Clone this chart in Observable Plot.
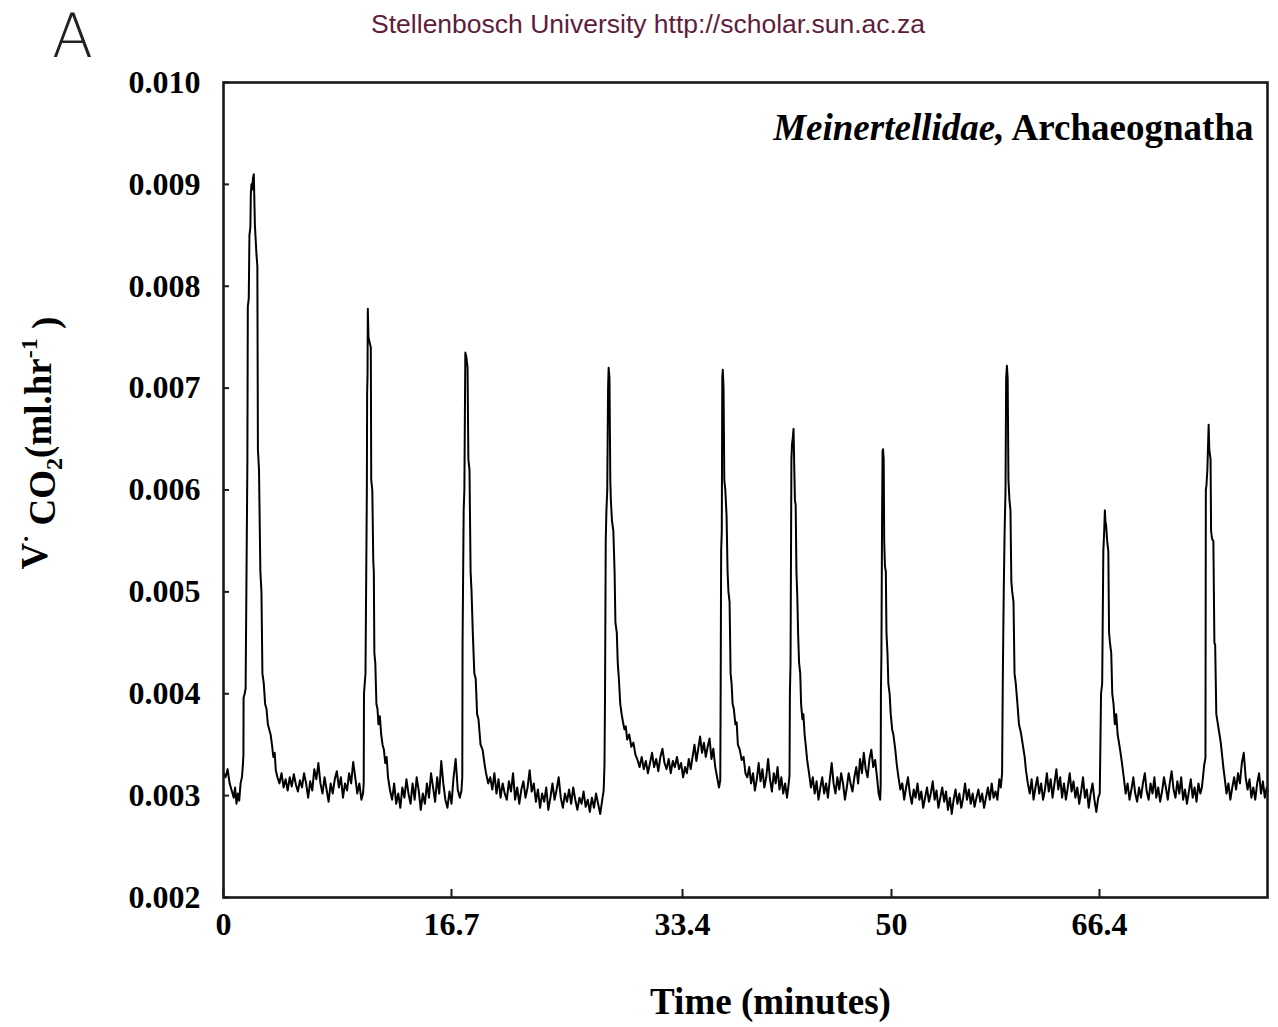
<!DOCTYPE html>
<html>
<head>
<meta charset="utf-8">
<script src="https://cdn.jsdelivr.net/npm/d3@7"></script>
<script src="https://cdn.jsdelivr.net/npm/@observablehq/plot@0.6"></script>
<style>
  html, body { margin: 0; padding: 0; background: #fff; }
  #wrap { position: relative; width: 1278px; height: 1027px; }
  #panel { position: absolute; left: 52px; top: 1px; line-height: normal; font: 200 60px "DejaVu Sans", "Open Sans", sans-serif; color: #222; }
  #mark { position: absolute; left: 0; width: 1296px; top: 9px; line-height: 1.2; text-align: center; font: 26.5px "Liberation Sans", Arial, sans-serif; color: #5e1d3c; }
  #chart { position: absolute; left: 0; top: 0; }
</style>
</head>
<body>
<div id="wrap">
  <div id="chart"></div>
  <div id="panel">A</div>
  <div id="mark">Stellenbosch University http://scholar.sun.ac.za</div>
</div>
<script>
// ---- data: time (minutes), V̇CO2 (ml/hr) ----
const rest0 = [[0,0.00322],[0.15,0.00318],[0.3,0.00326],[0.45,0.00312],[0.6,0.00305],[0.75,0.00298],[0.85,0.00308],[0.95,0.00292],[1.05,0.00302],[1.15,0.00295],[1.25,0.00312],[1.35,0.00318],[1.42,0.0033],[1.46,0.0034]];
const burst1 = [[1.47,0.00396],[1.55,0.004],[1.62,0.00405],[1.75,0.0063],[1.78,0.0078],[1.85,0.00788],[1.9,0.0085],[1.97,0.00858],[2.0,0.0089],[2.05,0.009],[2.1,0.00895],[2.15,0.00905],[2.22,0.0091],[2.3,0.0086],[2.42,0.0083],[2.48,0.0082],[2.52,0.0064],[2.6,0.0062],[2.7,0.0052],[2.78,0.005],[2.85,0.0042],[2.95,0.0041],[3.05,0.0039],[3.15,0.00385],[3.25,0.0037],[3.35,0.00365],[3.45,0.0036],[3.55,0.0035],[3.65,0.00338],[3.75,0.00342],[3.83,0.00325]];
const rest1 = [[3.95,0.00318],[4.1,0.00312],[4.25,0.00322],[4.4,0.00308],[4.55,0.00316],[4.7,0.00305],[4.85,0.00318],[5.0,0.00309],[5.15,0.00321],[5.3,0.00311],[5.45,0.00304],[5.6,0.00315],[5.75,0.00308],[5.9,0.00322],[6.05,0.00312],[6.2,0.00298],[6.35,0.00314],[6.5,0.00305],[6.65,0.00326],[6.8,0.00316],[6.95,0.00332],[7.1,0.00312],[7.25,0.00302],[7.4,0.00318],[7.55,0.00306],[7.7,0.00294],[7.85,0.00312],[8.0,0.00302],[8.15,0.00316],[8.3,0.00324],[8.45,0.00308],[8.6,0.00318],[8.75,0.00298],[8.9,0.00312],[9.05,0.00305],[9.2,0.00322],[9.35,0.00312],[9.5,0.00333],[9.65,0.00318],[9.8,0.00302],[9.95,0.00312],[10.1,0.00296],[10.22,0.00302],[10.27,0.00312]];
const burst2 = [[10.29,0.004],[10.4,0.0042],[10.5,0.006],[10.52,0.00694],[10.55,0.00714],[10.57,0.00778],[10.62,0.0075],[10.7,0.00745],[10.79,0.0074],[10.82,0.0061],[10.9,0.006],[10.97,0.0053],[11.01,0.0052],[11.05,0.0044],[11.12,0.0043],[11.2,0.0039],[11.28,0.00385],[11.35,0.0037],[11.45,0.00378],[11.55,0.0036],[11.65,0.0035],[11.75,0.00345],[11.85,0.00332],[11.95,0.00338],[12.05,0.00318]];
const rest2 = [[12.2,0.00305],[12.35,0.00296],[12.5,0.00312],[12.65,0.00292],[12.8,0.00302],[12.95,0.00288],[13.1,0.00308],[13.25,0.00298],[13.4,0.00316],[13.55,0.00302],[13.7,0.00292],[13.85,0.00312],[14.0,0.00296],[14.15,0.00318],[14.3,0.00305],[14.45,0.00286],[14.6,0.00302],[14.75,0.00292],[14.9,0.00312],[15.05,0.00298],[15.2,0.00322],[15.35,0.00308],[15.5,0.00294],[15.65,0.00318],[15.8,0.00302],[15.95,0.00334],[16.1,0.00312],[16.25,0.00296],[16.4,0.00288],[16.55,0.00304],[16.7,0.00292],[16.85,0.00318],[17.0,0.00336],[17.15,0.00306],[17.3,0.00298],[17.42,0.00305],[17.48,0.00318]];
const burst3 = [[17.5,0.0045],[17.58,0.0058],[17.63,0.006],[17.7,0.00735],[17.78,0.0073],[17.86,0.0072],[17.92,0.0063],[18.0,0.0062],[18.08,0.0052],[18.15,0.005],[18.24,0.0046],[18.35,0.0042],[18.45,0.00415],[18.55,0.0038],[18.65,0.00375],[18.8,0.0035],[18.95,0.00345],[19.1,0.0033],[19.2,0.00322]];
const rest3 = [[19.35,0.00312],[19.5,0.00318],[19.65,0.00306],[19.8,0.00322],[19.95,0.00302],[20.1,0.00316],[20.25,0.00298],[20.4,0.00312],[20.55,0.00302],[20.7,0.00296],[20.85,0.00314],[21.0,0.00304],[21.15,0.00322],[21.3,0.00296],[21.45,0.00308],[21.6,0.00292],[21.75,0.00306],[21.9,0.00314],[22.05,0.00298],[22.2,0.00308],[22.35,0.00325],[22.5,0.00304],[22.65,0.00312],[22.8,0.00294],[22.95,0.00306],[23.1,0.00288],[23.25,0.00302],[23.4,0.00294],[23.55,0.00308],[23.7,0.00286],[23.85,0.00298],[24.0,0.00312],[24.15,0.00296],[24.3,0.00306],[24.45,0.00318],[24.6,0.00298],[24.75,0.00288],[24.9,0.00302],[25.05,0.00294],[25.2,0.00306],[25.35,0.00292],[25.5,0.00308],[25.65,0.00296],[25.8,0.00286],[25.95,0.00298],[26.1,0.00292],[26.25,0.00304],[26.4,0.00289],[26.55,0.00296],[26.7,0.00284],[26.85,0.00298],[27.0,0.00288],[27.15,0.00302],[27.3,0.00292],[27.45,0.00282],[27.6,0.00296],[27.7,0.00305],[27.76,0.0033]];
const burst4 = [[27.8,0.004],[27.85,0.0055],[27.9,0.0058],[27.96,0.006],[28.02,0.007],[28.06,0.0072],[28.12,0.0071],[28.18,0.0061],[28.22,0.0059],[28.3,0.0057],[28.4,0.0056],[28.49,0.0052],[28.55,0.0047],[28.65,0.0046],[28.72,0.0043],[28.8,0.00415],[28.9,0.0039],[29.0,0.0038],[29.1,0.00372],[29.2,0.00365],[29.3,0.00368],[29.4,0.00355],[29.55,0.0036],[29.7,0.00348],[29.85,0.00352],[30.0,0.0034]];
const rest4 = [[30.15,0.00335],[30.3,0.00328],[30.45,0.00338],[30.6,0.00326],[30.75,0.00334],[30.9,0.00322],[31.05,0.00332],[31.2,0.00342],[31.35,0.00328],[31.5,0.00336],[31.65,0.00324],[31.8,0.00338],[31.95,0.00346],[32.1,0.00332],[32.25,0.00326],[32.4,0.00336],[32.55,0.00322],[32.7,0.00334],[32.85,0.00328],[33.0,0.00338],[33.15,0.00326],[33.3,0.00332],[33.45,0.00318],[33.6,0.00328],[33.75,0.00322],[33.9,0.00336],[34.05,0.00326],[34.2,0.00338],[34.35,0.0035],[34.5,0.00334],[34.65,0.00346],[34.8,0.00358],[34.95,0.00342],[35.1,0.00352],[35.25,0.00338],[35.4,0.00348],[35.55,0.00356],[35.7,0.00336],[35.85,0.00346],[36.0,0.00328],[36.15,0.00318],[36.3,0.00308],[36.4,0.00315]];
const burst5 = [[36.43,0.004],[36.47,0.0054],[36.52,0.0056],[36.56,0.0071],[36.6,0.00718],[36.66,0.007],[36.72,0.0061],[36.8,0.006],[36.9,0.00575],[36.98,0.0052],[37.05,0.005],[37.14,0.0049],[37.22,0.0042],[37.3,0.0041],[37.38,0.0039],[37.48,0.00385],[37.6,0.0037],[37.7,0.00372],[37.8,0.0035],[37.95,0.00345],[38.1,0.00335],[38.25,0.00338],[38.4,0.00322]];
const rest5 = [[38.55,0.00318],[38.7,0.00328],[38.85,0.00312],[39.0,0.00322],[39.15,0.00305],[39.3,0.00316],[39.45,0.00332],[39.6,0.00314],[39.75,0.00326],[39.9,0.00308],[40.05,0.00318],[40.2,0.00336],[40.35,0.00316],[40.5,0.00304],[40.65,0.00322],[40.8,0.00312],[40.95,0.00328],[41.1,0.00306],[41.25,0.00318],[41.4,0.00302],[41.55,0.00312],[41.7,0.00298],[41.82,0.0031],[41.9,0.0032]];
const burst6 = [[41.93,0.004],[41.98,0.0043],[42.05,0.0063],[42.1,0.00645],[42.15,0.0065],[42.22,0.0066],[42.28,0.0062],[42.33,0.0059],[42.39,0.00585],[42.45,0.0052],[42.52,0.00495],[42.58,0.0046],[42.66,0.0043],[42.75,0.0042],[42.82,0.0039],[42.92,0.00375],[43.0,0.0038],[43.1,0.0036],[43.2,0.00348],[43.3,0.00335]];
const rest6 = [[43.45,0.00322],[43.6,0.00308],[43.75,0.00318],[43.9,0.00302],[44.05,0.00314],[44.2,0.00296],[44.35,0.00308],[44.5,0.00318],[44.65,0.00302],[44.8,0.00312],[44.95,0.00298],[45.1,0.00316],[45.25,0.00332],[45.4,0.00312],[45.55,0.00302],[45.7,0.00318],[45.85,0.00306],[46.0,0.00322],[46.15,0.00312],[46.3,0.00296],[46.45,0.00308],[46.6,0.00322],[46.75,0.00312],[46.9,0.00304],[47.05,0.00318],[47.2,0.00328],[47.35,0.00312],[47.5,0.00336],[47.65,0.00322],[47.8,0.00342],[47.95,0.00326],[48.1,0.00318],[48.25,0.00336],[48.4,0.00345],[48.55,0.00328],[48.7,0.00335],[48.85,0.00318],[48.98,0.00302],[49.1,0.00296],[49.14,0.0031]];
const burst7 = [[49.16,0.004],[49.2,0.0044],[49.25,0.0057],[49.29,0.00638],[49.33,0.0064],[49.38,0.0063],[49.42,0.0055],[49.48,0.00525],[49.55,0.0052],[49.6,0.0046],[49.68,0.0044],[49.75,0.0041],[49.85,0.004],[49.94,0.0038],[50.05,0.00365],[50.15,0.0036],[50.3,0.00345],[50.42,0.0033]];
const rest7 = [[50.55,0.00318],[50.7,0.00306],[50.85,0.00312],[51.0,0.00296],[51.15,0.00308],[51.3,0.00318],[51.45,0.00302],[51.6,0.00292],[51.75,0.00306],[51.9,0.00298],[52.05,0.00312],[52.2,0.00296],[52.35,0.00304],[52.5,0.00288],[52.65,0.00298],[52.8,0.00308],[52.95,0.00294],[53.1,0.00302],[53.25,0.00314],[53.4,0.00296],[53.55,0.00305],[53.7,0.00288],[53.85,0.00298],[54.0,0.00308],[54.15,0.00294],[54.3,0.00304],[54.45,0.00286],[54.6,0.00298],[54.75,0.00282],[54.9,0.00296],[55.05,0.00306],[55.2,0.00292],[55.35,0.00302],[55.5,0.00288],[55.65,0.00298],[55.8,0.00312],[55.95,0.00296],[56.1,0.00306],[56.25,0.00292],[56.4,0.00302],[56.55,0.00289],[56.7,0.00298],[56.85,0.00306],[57.0,0.00294],[57.15,0.00302],[57.3,0.00288],[57.45,0.00298],[57.6,0.00308],[57.75,0.00296],[57.9,0.00312],[58.05,0.00298],[58.2,0.00304],[58.35,0.00296],[58.5,0.00316],[58.62,0.00308],[58.72,0.00322]];
const burst8 = [[58.78,0.0042],[58.85,0.005],[58.92,0.0056],[58.99,0.006],[59.04,0.0071],[59.1,0.00722],[59.16,0.0071],[59.22,0.0061],[59.3,0.0059],[59.38,0.0058],[59.45,0.0051],[59.52,0.005],[59.62,0.0049],[59.7,0.0042],[59.8,0.0041],[59.93,0.0039],[60.05,0.0037],[60.2,0.00362],[60.35,0.0035],[60.5,0.00338],[60.6,0.00325]];
const rest8 = [[60.75,0.00312],[60.9,0.00302],[61.05,0.00316],[61.2,0.00296],[61.35,0.00308],[61.5,0.00318],[61.65,0.00302],[61.8,0.00312],[61.95,0.00296],[62.1,0.00306],[62.25,0.00322],[62.4,0.00304],[62.55,0.00316],[62.7,0.00298],[62.85,0.00312],[63.0,0.00326],[63.15,0.00306],[63.3,0.00318],[63.45,0.00298],[63.6,0.00312],[63.75,0.00296],[63.9,0.00308],[64.05,0.00322],[64.2,0.00304],[64.35,0.00314],[64.5,0.00298],[64.65,0.00308],[64.8,0.00292],[64.95,0.00304],[65.1,0.00318],[65.25,0.00298],[65.4,0.00306],[65.55,0.00288],[65.7,0.00302],[65.85,0.00312],[66.0,0.00296],[66.15,0.00284],[66.3,0.00298],[66.42,0.00302]];
const burst9 = [[66.47,0.0035],[66.52,0.004],[66.61,0.0041],[66.7,0.0054],[66.77,0.0056],[66.82,0.0058],[66.86,0.0057],[66.92,0.00565],[67.0,0.0055],[67.09,0.0054],[67.15,0.0046],[67.22,0.0045],[67.32,0.0044],[67.4,0.004],[67.5,0.0039],[67.6,0.0037],[67.71,0.0038],[67.82,0.0036],[67.95,0.0035],[68.05,0.00342],[68.18,0.0033]];
const rest9 = [[68.3,0.00318],[68.45,0.00302],[68.6,0.00312],[68.75,0.00296],[68.9,0.00306],[69.05,0.00318],[69.2,0.00302],[69.35,0.00294],[69.5,0.00308],[69.65,0.00298],[69.8,0.00312],[69.95,0.00322],[70.1,0.00304],[70.25,0.00296],[70.4,0.00312],[70.55,0.00302],[70.7,0.00318],[70.85,0.00298],[71.0,0.00308],[71.15,0.00294],[71.3,0.00304],[71.45,0.00318],[71.6,0.00308],[71.75,0.00296],[71.9,0.00312],[72.05,0.00324],[72.2,0.00306],[72.35,0.00298],[72.5,0.00314],[72.65,0.00302],[72.8,0.00318],[72.95,0.00296],[73.1,0.00306],[73.25,0.00292],[73.4,0.00304],[73.55,0.00316],[73.7,0.00298],[73.85,0.00308],[74.0,0.00294],[74.15,0.00312],[74.3,0.00302],[74.42,0.00308],[74.52,0.0032]];
const burst10 = [[74.6,0.0033],[74.7,0.00337],[74.73,0.006],[74.78,0.00605],[74.85,0.0062],[74.95,0.00664],[75.0,0.0064],[75.05,0.00635],[75.1,0.0063],[75.14,0.0056],[75.22,0.00552],[75.32,0.0055],[75.4,0.0045],[75.46,0.00448],[75.55,0.0038],[75.6,0.00376],[75.7,0.00368],[75.8,0.0036],[75.9,0.00352],[76.0,0.0034],[76.1,0.00328],[76.2,0.00318]];
const rest10 = [[76.35,0.00302],[76.5,0.00312],[76.65,0.00296],[76.8,0.00308],[76.95,0.00318],[77.1,0.00306],[77.25,0.00322],[77.4,0.00312],[77.55,0.00332],[77.7,0.00342],[77.85,0.00318],[78.0,0.00306],[78.15,0.00316],[78.3,0.00298],[78.45,0.00308],[78.6,0.00296],[78.75,0.00312],[78.9,0.00322],[79.05,0.00302],[79.2,0.00314],[79.35,0.00298],[79.5,0.00308],[79.56,0.00304]];

const xTicks = [0, 16.7, 33.4, 50, 66.4];
const xTickLabels = ["0", "16.7", "33.4", "50", "66.4"];
const yTicks = [0.002, 0.003, 0.004, 0.005, 0.006, 0.007, 0.008, 0.009, 0.010];
const annotation = "Meinertellidae, Archaeognatha";
const xLabel = "Time (minutes)";
const yLabel = "V CO2(ml.hr-1 )";

const series = [rest0, burst1, rest1, burst2, rest2, burst3, rest3, burst4, rest4, burst5,
  rest5, burst6, rest6, burst7, rest7, burst8, rest8, burst9, rest9, burst10, rest10]
  .flat().map(([t, v]) => ({t, v}));

const serif = "'Liberation Serif', 'Times New Roman', serif";

const chart = Plot.plot({
  width: 1278,
  height: 1027,
  marginLeft: 223,
  marginRight: 11,
  marginTop: 82,
  marginBottom: 130,
  style: {fontFamily: serif, fontWeight: "bold", fontSize: "32px", color: "#000", background: "transparent"},
  x: {type: "linear", domain: [0, 16.7, 33.4, 50, 66.4, 79.56], range: [223, 451, 682, 891, 1099, 1267]},
  y: {domain: [0.002, 0.010]},
  marks: [
    Plot.line(series, {x: "t", y: "v", stroke: "#000", strokeWidth: 2}),
    Plot.frame({stroke: "#1a1a1a", strokeWidth: 2.6}),
    Plot.axisY({ticks: yTicks, tickSize: 6, dx: 6, fill: "none", stroke: "#1a1a1a", strokeWidth: 2, label: null}),
    Plot.axisY({ticks: yTicks, tickSize: 0, tickPadding: 23, tickFormat: d3.format(".3f"), fontSize: 32, fontWeight: "bold", fontFamily: serif, fill: "#000", label: null}),
    Plot.axisX({ticks: xTicks, tickSize: 8, dy: -8, fill: "none", stroke: "#1a1a1a", strokeWidth: 2, label: null}),
    Plot.axisX({ticks: xTicks, tickSize: 0, tickPadding: 15, tickFormat: (d) => xTickLabels[xTicks.indexOf(d)], fontSize: 32, fontWeight: "bold", fontFamily: serif, fill: "#000", label: null}),
    Plot.text([xLabel], {frameAnchor: "bottom", textAnchor: "middle", dx: 25, dy: 116, fontSize: 37, fontWeight: "bold", fontFamily: serif, fill: "#000"}),
    Plot.text([yLabel], {frameAnchor: "left", textAnchor: "middle", rotate: -90, dx: -188, dy: -47, fontSize: 37, fontWeight: "bold", fontFamily: serif, fill: "#000"}),
    Plot.text([annotation], {frameAnchor: "top-right", textAnchor: "end", dx: -14, dy: 31, fontSize: 37, fontWeight: "bold", fontFamily: serif, fill: "#000"})
  ]
});

// rich text (italics, sub/superscripts) inside the Plot text marks
const svg = d3.select(chart);
svg.selectAll("text").filter(function() { return this.textContent === annotation; }).each(function() {
  const t = d3.select(this).text(null);
  t.append("tspan").attr("font-style", "italic").text("Meinertellidae,");
  t.append("tspan").text(" Archaeognatha");
});
svg.selectAll("text").filter(function() { return this.textContent === yLabel; }).each(function() {
  const t = d3.select(this).text(null);
  t.append("tspan").text("V");
  t.append("tspan").attr("font-size", "24px").attr("dy", "-0.55em").text("·");
  t.append("tspan").attr("dy", "0.55em").text(" CO");
  t.append("tspan").attr("font-size", "24px").attr("dy", "0.3em").text("2");
  t.append("tspan").attr("dy", "-0.3em").text("(ml.hr");
  t.append("tspan").attr("font-size", "24px").attr("dy", "-0.55em").text("-1");
  t.append("tspan").attr("dy", "0.55em").text(" )");
});

document.getElementById("chart").appendChild(chart);
</script>
</body>
</html>
